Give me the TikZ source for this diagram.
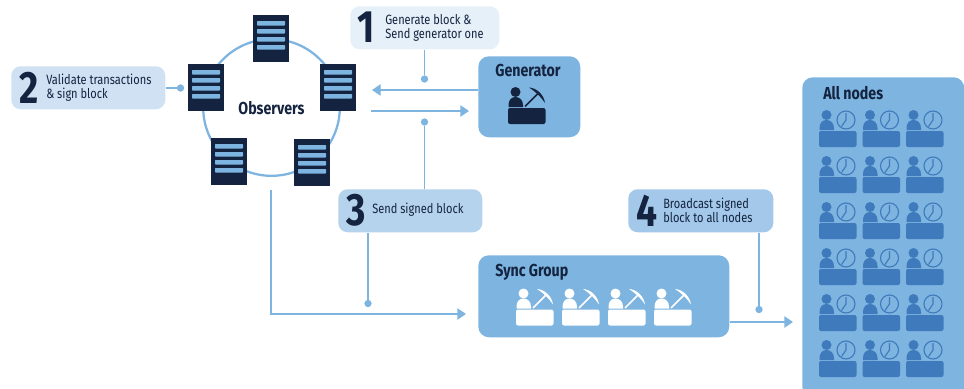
\documentclass[tikz,border=0pt]{standalone}
\usepackage{fontspec}
\setmainfont[FakeStretch=0.82]{Fira Sans}
\usetikzlibrary{arrows.meta}
\definecolor{navy}{HTML}{14233F}
\definecolor{mid}{HTML}{7DB4E0}
\definecolor{deskblue}{HTML}{3F7ABD}
\definecolor{stepa}{HTML}{E6F0F9}
\definecolor{stepb}{HTML}{D0E1F3}
\definecolor{stepc}{HTML}{B6D3ED}
\definecolor{stepd}{HTML}{A3C8E9}
\tikzset{
  box/.style={anchor=north west,inner sep=0pt,rounded corners=7pt,fill=#1},
  link/.style={draw=mid,line width=1pt},
  arrowlink/.style={link,-{Triangle[length=6.5pt,width=8.5pt,fill=mid]}},
  dotnode/.style={circle,fill=mid,inner sep=0pt,minimum size=5.5pt},
  numlabel/.style={text=navy,font=\fontsize{34}{34}\selectfont\bfseries,inner sep=0pt},
  steplabel/.style={text=navy,font=\fontsize{10.1}{10.6}\selectfont,align=left,anchor=west,inner sep=0pt},
  titlelabel/.style={text=navy,font=\fontsize{13}{13}\selectfont\bfseries,inner sep=0pt},
  pics/server/.style={code={
    \fill[navy] (0,0) rectangle (36,47);
    \foreach \yy in {6,14,22,30}{\fill[mid,rounded corners=0.4pt] (4,\yy) rectangle (32,\yy+4.5);}
  }},
  pics/person/.style={code={
    \fill[#1] (7.5,-16) circle[radius=5];
    \fill[#1] (0.5,-1) -- (0.5,-3) .. controls (0.5,-8) and (3.5,-11) .. (7.5,-11) .. controls (11.5,-11) and (15,-8) .. (15,-3) -- (15,-1) -- cycle;
    \fill[#1,rounded corners=1.5pt] (0,0) rectangle (37.5,16);
  }},
  pics/miner/.style={code={
    \pic {person=#1};
    \draw[#1,line width=1.3pt] (17,-1.5) -- (31,-15.5);
    \fill[#1] (21,-20.5) .. controls (29,-20) and (36,-13) .. (37,-5) .. controls (33,-11) and (28,-16) .. (21,-20.5) -- cycle;
  }},
  pics/clockperson/.style={code={
    \pic {person=deskblue};
    \draw[deskblue,line width=0.85pt] (27,-11) circle[radius=9];
    \draw[deskblue,line width=0.85pt] (27,-18) -- (27,-11) -- (22.5,-4.5);
  }}
}
\begin{document}
\begin{tikzpicture}[x=0.75pt,y=-0.75pt]
\useasboundingbox (0,0) rectangle (964,389);

% ring and servers
\node[circle,draw=mid,line width=1.7pt,minimum size=102.5pt,inner sep=0pt] (ring) at (271.5,107.5) {};
\pic at (253,15) {server};
\pic at (188,64) {server};
\pic at (320,64) {server};
\pic at (211,138) {server};
\pic at (294,139) {server};
\node[titlelabel] (obs) at (271.5,108) {Observers};

% callouts
\node[box=stepa,minimum width=111.75pt,minimum height=32.25pt] (s1) at (350,6) {};
\node[box=stepb,minimum width=115.5pt,minimum height=32.25pt] (s2) at (11,66) {};
\node[box=stepc,minimum width=108pt,minimum height=32.25pt] (s3) at (338,189) {};
\node[box=stepd,minimum width=108.75pt,minimum height=32.25pt] (s4) at (628,189) {};

\node[numlabel] (n1) at (366.5,27.5) {1};
\node[numlabel] (n2) at (29.5,87.5) {2};
\node[numlabel] (n3) at (356,210.5) {3};
\node[numlabel] (n4) at (647,210.5) {4};
\node[steplabel] (t1) at (385,27.5) {Generate block \&\\Send generator one};
\node[steplabel] (t2) at (46,87.5) {Validate transactions\\\& sign block};
\node[steplabel] (t3) at (372,209.5) {Send signed block};
\node[steplabel] (t4) at (663,210.5) {Broadcast signed\\block to all nodes};

% main boxes
\node[box=mid,rounded corners=8pt,minimum width=76.5pt,minimum height=60.75pt] (gen) at (478,56) {};
\node[box=mid,rounded corners=8pt,minimum width=188.25pt,minimum height=61.5pt] (sync) at (478,255) {};
\begin{scope}
  \clip (0,0) rectangle (964,389);
  \node[box=mid,rounded corners=8pt,minimum width=121.5pt,minimum height=240pt] (all) at (802,77) {};
\end{scope}
\node[titlelabel] (gent) at (528,70) {Generator};
\node[titlelabel,anchor=west] (synct) at (495,272.5) {Sync Group};
\node[titlelabel,anchor=west] (allt) at (823,93.5) {All nodes};

\pic at (508,108) {miner=navy};
\foreach \xx in {516,562,608,654} {\pic at (\xx,309.5) {miner=white};}
\foreach \xx in {819,862.5,906} {
  \foreach \yy in {131,177,223,269,315,361} {\pic at (\xx,\yy) {clockperson};}
}

% dots
\node[dotnode] (d1) at (424.5,79) {};
\node[dotnode] (d2) at (180.5,88) {};
\node[dotnode] (d3a) at (424.5,122) {};
\node[dotnode] (d3b) at (368,303.5) {};
\node[dotnode] (d4) at (759,309.5) {};

% free ends
\coordinate (genin) at (469,111);
\coordinate (genout) at (371,111);
\coordinate (retend) at (372,90);
\coordinate (obsdown) at (271,190);
\coordinate (corner) at (271,314);
\coordinate (syncin) at (466,314);
\coordinate (allin) at (793,322);

% connectors
\draw[link] (s1.south -| d1) -- (d1);
\draw[link] (s2.east |- d2) -- (d2);
\draw[link] (s3.north -| d3a) -- (d3a);
\draw[link] (s3.south -| d3b) -- (d3b);
\draw[link] (s4.south -| d4) -- (d4);
\draw[arrowlink] (gen.west |- retend) -- (retend);
\draw[arrowlink] (genout) -- (genin);
\draw[arrowlink] (obsdown) -- (corner) -- (syncin);
\draw[arrowlink] (sync.east |- allin) -- (allin);
\end{tikzpicture}
\end{document}
